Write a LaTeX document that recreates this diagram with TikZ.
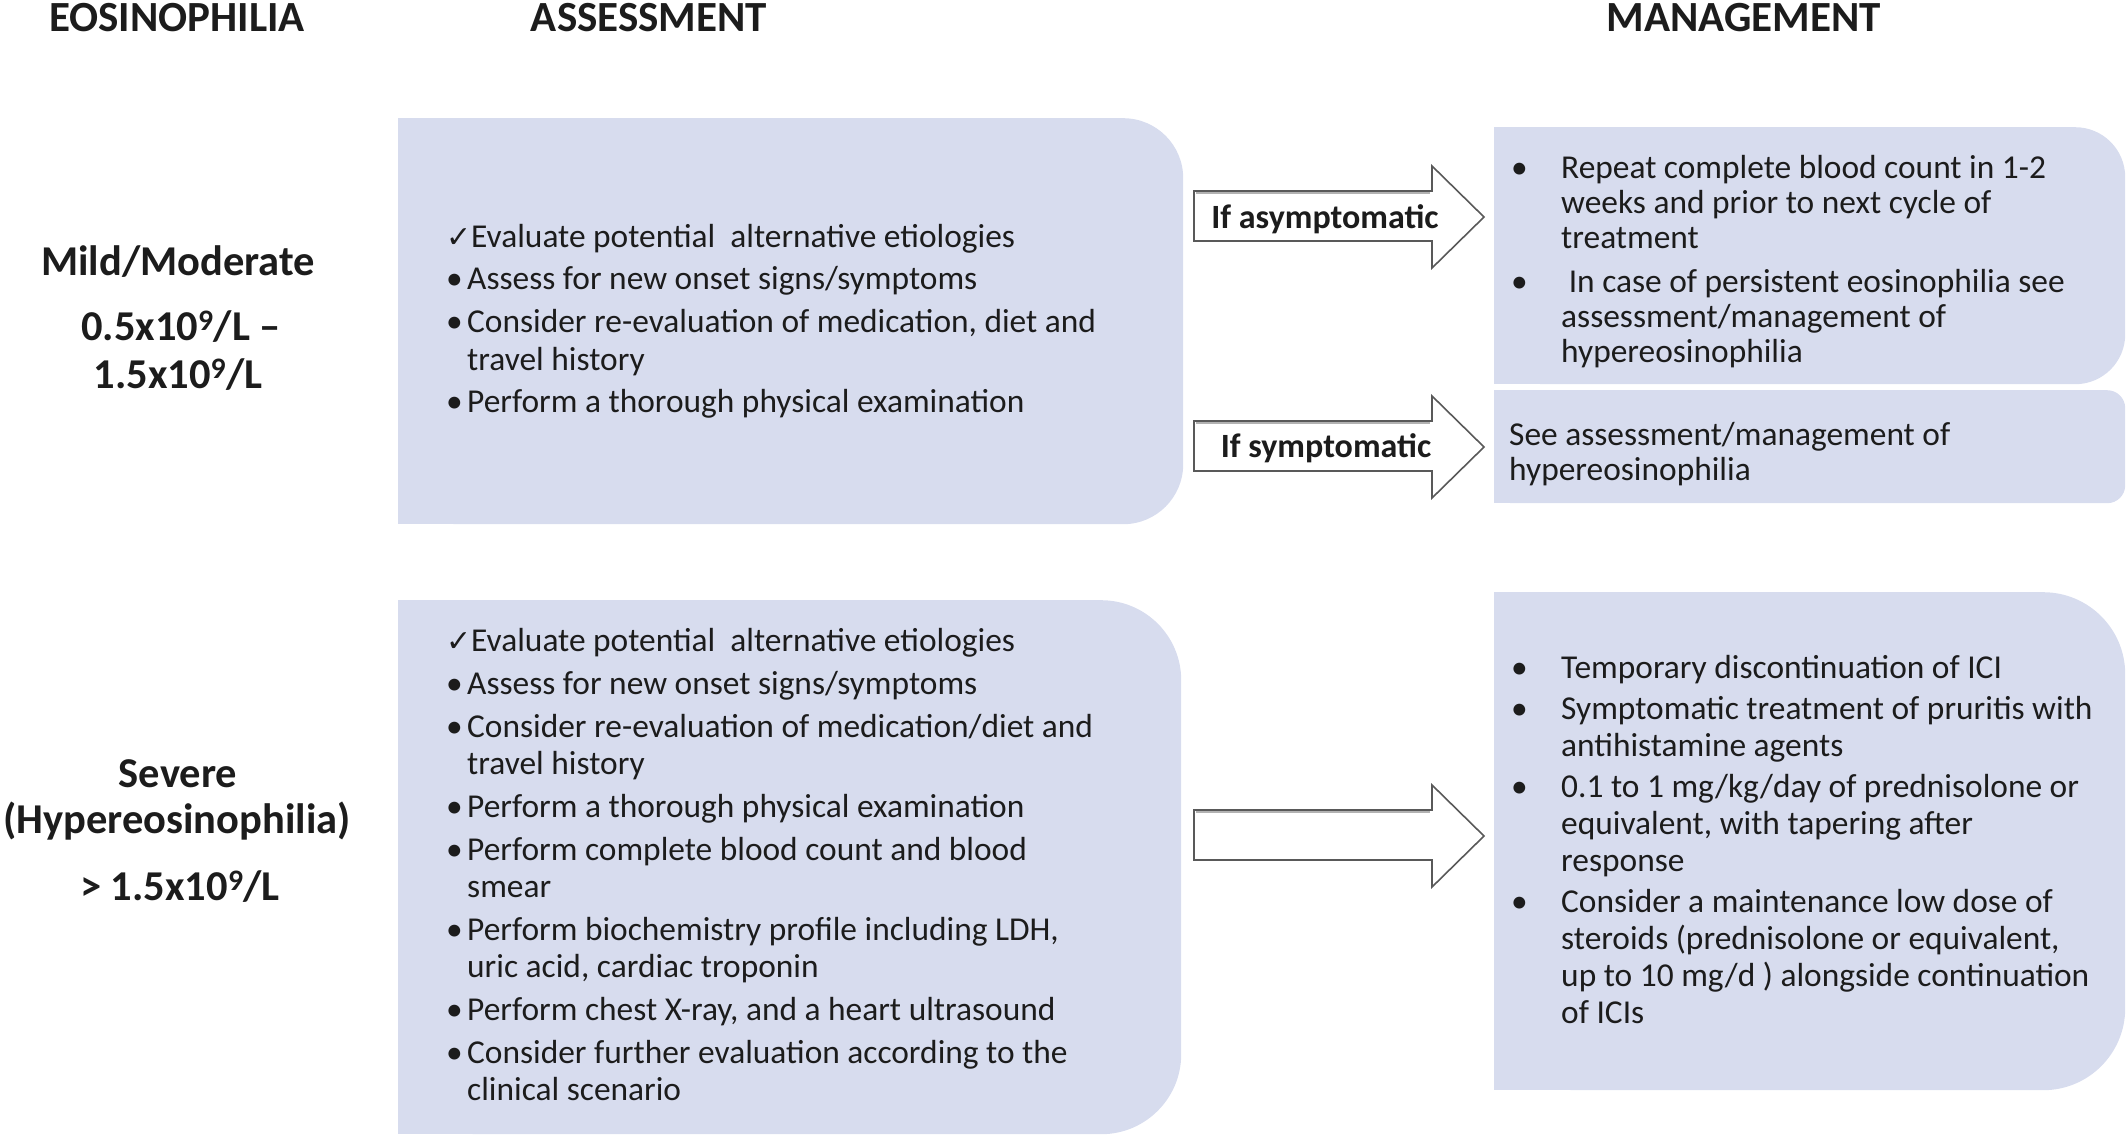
\documentclass[tikz,border=0pt]{standalone}
\usepackage{fontspec}
\setmainfont{Carlito}
\newfontfamily\symfont{DejaVu Sans}
\definecolor{boxfill}{RGB}{215,220,238}
\definecolor{txt}{RGB}{28,28,28}
\newcommand\aitem[1]{\hbox{\hspace*{-2pt}\makebox[21pt][l]{\textbullet}#1}}
\newcommand\acont[1]{\hbox{\hspace*{19pt}#1}}
\newcommand\mitem[1]{\hbox{\makebox[50pt][l]{\textbullet}#1}}
\newcommand\mcont[1]{\hbox{\hspace*{50pt}#1}}
\newcommand\chk{\makebox[23pt][l]{\hspace*{-2pt}{\fontsize{30}{30}\symfont ✓}}}
\begin{document}
\begin{tikzpicture}[x=1pt,y=-1pt,
  hdr/.style={font=\fontsize{43}{50}\selectfont\bfseries, anchor=base, inner sep=0pt, text=txt},
  lvl/.style={font=\fontsize{42.5}{50}\selectfont\bfseries, anchor=base, inner sep=0pt, text=txt},
  body/.style={font=\fontsize{33.4}{38}\selectfont, anchor=base west, inner sep=0pt, text=txt},
  albl/.style={font=\fontsize{34}{40}\selectfont\bfseries, anchor=base, inner sep=0pt, text=txt},
  blockarrow/.style={draw=black!65, fill=white, line width=1.6pt, line join=miter},
  arrowshadow/.style={draw=black!30, line width=1.4pt, line join=miter},
  panel/.style={fill=boxfill, draw=none, inner sep=0pt, anchor=north west}]
\useasboundingbox (0,0) rectangle (2128,1138);

% headers
\node[hdr] (hEos) at (177,31) {EOSINOPHILIA};
\node[hdr] (hAss) at (649,31) {ASSESSMENT};
\node[hdr] (hMan) at (1744,31) {MANAGEMENT};

% level labels
\node[lvl] (lMild) at (178,275) {Mild/Moderate};
\node[lvl] (lMildA) at (181,340) {0.5x10\textsuperscript{9}/L –};
\node[lvl] (lMildB) at (178,388) {1.5x10\textsuperscript{9}/L};
\node[lvl] (lSev) at (178,787) {Severe};
\node[lvl] (lSevA) at (177,833) {(Hypereosinophilia)};
\node[lvl] (lSevB) at (180,900) {> 1.5x10\textsuperscript{9}/L};

% panels (right corners rounded)
\node[panel, rounded corners=60pt, minimum width=785pt, minimum height=406pt] (pA1) at (398,118) {};
\fill[boxfill] (pA1.north west) rectangle (pA1.south);
\node[panel, rounded corners=80pt, minimum width=783pt, minimum height=534pt] (pA2) at (398,600) {};
\fill[boxfill] (pA2.north west) rectangle (pA2.south);
\node[panel, rounded corners=50pt, minimum width=631pt, minimum height=257pt] (pM1) at (1494,127) {};
\fill[boxfill] (pM1.north west) rectangle (pM1.south);
\node[panel, rounded corners=18pt, minimum width=631pt, minimum height=113pt] (pM2) at (1494,390) {};
\fill[boxfill] (pM2.north west) rectangle (pM2.south);
\node[panel, rounded corners=82pt, minimum width=631pt, minimum height=498pt] (pM3) at (1494,592) {};
\fill[boxfill] (pM3.north west) rectangle (pM3.south);

% block arrows (with a faint shadow line along the shaft)
\foreach \dy in {0,230,619}{
  \draw[arrowshadow] (1196,{193+\dy}) -- (1430,{193+\dy});
  \draw[arrowshadow] (1196,{239+\dy}) -- (1430,{239+\dy});
}
\draw[blockarrow] (1194,191) -- (1432,191) -- (1432,166) -- (1484,217) -- (1432,268) -- (1432,241) -- (1194,241) -- cycle;
\draw[blockarrow] (1194,421) -- (1432,421) -- (1432,396) -- (1484,447) -- (1432,498) -- (1432,471) -- (1194,471) -- cycle;
\draw[blockarrow] (1194,810) -- (1432,810) -- (1432,785) -- (1484,836) -- (1432,887) -- (1432,860) -- (1194,860) -- cycle;
\draw[arrowshadow] (1196,193) -- (1430,193) (1196,423) -- (1430,423) (1196,812) -- (1430,812);
\node[albl] (aAsym) at (1325,228) {If asymptomatic};
\node[albl] (aSym) at (1326,457) {If symptomatic};

% assessment texts
\node[body] (tA1) at (448,247) {\vtop{%
  \hbox{\chk Evaluate potential\ \ alternative etiologies}\vskip4.5pt
  \aitem{Assess for new onset signs/symptoms}\vskip4.5pt
  \aitem{Consider re-evaluation of medication, diet and}
  \acont{travel history}\vskip4.5pt
  \aitem{Perform a thorough physical examination}}};

\node[body, font=\fontsize{33.4}{37}\selectfont] (tA2) at (448,651) {\vtop{%
  \hbox{\chk Evaluate potential\ \ alternative etiologies}\vskip6pt
  \aitem{Assess for new onset signs/symptoms}\vskip6pt
  \aitem{Consider re-evaluation of medication/diet and}
  \acont{travel history}\vskip6pt
  \aitem{Perform a thorough physical examination}\vskip6pt
  \aitem{Perform complete blood count and blood}
  \acont{smear}\vskip6pt
  \aitem{Perform biochemistry profile including LDH,}
  \acont{uric acid, cardiac troponin}\vskip6pt
  \aitem{Perform chest X-ray, and a heart ultrasound}\vskip6pt
  \aitem{Consider further evaluation according to the}
  \acont{clinical scenario}}};

% management texts
\node[body, font=\fontsize{33.4}{35}\selectfont] (tM1) at (1511,178) {\vtop{%
  \mitem{Repeat complete blood count in 1-2}
  \mcont{weeks and prior to next cycle of}
  \mcont{treatment}\vskip9pt
  \mitem{\ In case of persistent eosinophilia see}
  \mcont{assessment/management of}
  \mcont{hypereosinophilia}}};

\node[body, font=\fontsize{33.4}{35}\selectfont] (tM2) at (1509,445) {\vtop{%
  \hbox{See assessment/management of}
  \hbox{hypereosinophilia}}};

\node[body, font=\fontsize{33.4}{37}\selectfont] (tM3) at (1511,678) {\vtop{%
  \mitem{Temporary discontinuation of ICI}\vskip4pt
  \mitem{Symptomatic treatment of pruritis with}
  \mcont{antihistamine agents}\vskip4pt
  \mitem{0.1 to 1 mg/kg/day of prednisolone or}
  \mcont{equivalent, with tapering after}
  \mcont{response}\vskip4pt
  \mitem{Consider a maintenance low dose of}
  \mcont{steroids (prednisolone or equivalent,}
  \mcont{up to 10 mg/d ) alongside continuation}
  \mcont{of ICIs}}};
\end{tikzpicture}
\end{document}
